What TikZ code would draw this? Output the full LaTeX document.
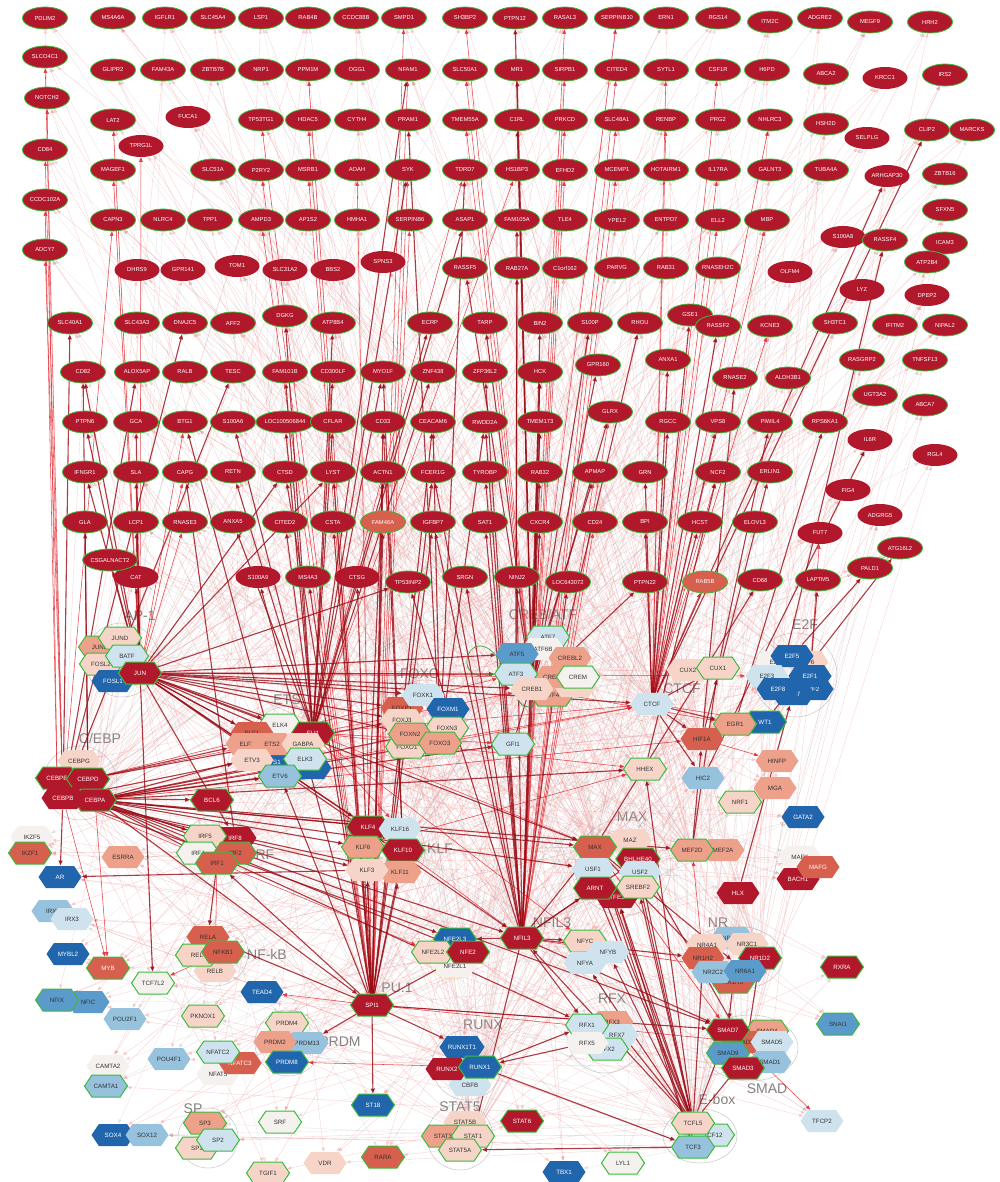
\documentclass[tikz,border=0pt]{standalone}
\usepackage{fontspec}
\setmainfont{Liberation Sans}
\usetikzlibrary{shapes.geometric,shapes.symbols,arrows.meta}
\definecolor{c1}{HTML}{B2182B}
\definecolor{c2}{HTML}{D6604D}
\definecolor{c3}{HTML}{EDA08A}
\definecolor{c4}{HTML}{F6D5C8}
\definecolor{c5}{HTML}{F4F1EF}
\definecolor{c6}{HTML}{CFE3EF}
\definecolor{c7}{HTML}{96C2DD}
\definecolor{c8}{HTML}{5A9BCB}
\definecolor{c9}{HTML}{2166AC}
\definecolor{gG}{HTML}{3CBB3C}
\definecolor{dkr}{HTML}{9A0C16}
\definecolor{mr}{HTML}{E3262E}
\definecolor{fr}{HTML}{F09696}
\definecolor{txd}{HTML}{333333}
\pgfdeclarelayer{bg}
\pgfdeclarelayer{edges}
\pgfsetlayers{bg,edges,main}
\newcommand\mkg[3]{\node[gene] (#1) at (#2,#3) {#1};}
\newcommand\mkgb[3]{\node[gene,draw=none] (#1) at (#2,#3) {#1};}
\newcommand\mkt[4]{\node[hx#1] (#2) at (#3,#4) {#2};}
\newcommand\mktg[4]{\node[hx#1,draw=gG] (#2) at (#3,#4) {#2};}
\begin{document}
\begin{tikzpicture}[x=1pt,y=-1pt,
 gene/.style={ellipse, fill=c1, draw=gG, line width=0.8pt, minimum width=45pt, minimum height=22pt, inner sep=0pt, text=white, font=\fontsize{5.8}{6}\selectfont},
 tf/.style={signal, signal to=west and east, signal pointer angle=112, minimum width=43pt, minimum height=22pt, inner sep=1pt, font=\fontsize{6.2}{7}\selectfont, line width=1pt},
 hx1/.style={tf, fill=c1, text=white},
 hx2/.style={tf, fill=c2, text=txd},
 hx2w/.style={tf, fill=c2, text=white},
 hx3/.style={tf, fill=c3, text=txd},
 hx4/.style={tf, fill=c4, text=txd},
 hx5/.style={tf, fill=c5, text=txd},
 hx6/.style={tf, fill=c6, text=txd},
 hx7/.style={tf, fill=c7, text=txd},
 hx8/.style={tf, fill=c8, text=txd},
 hx9/.style={tf, fill=c9, text=white},
 clu/.style={draw=black!22, line width=0.5pt},
 clab/.style={text=black!50, font=\fontsize{14}{16}\selectfont},
 se/.style={draw=dkr, line width=1.1pt, opacity=.8, -{Triangle[length=5pt,width=4pt]}},
 me/.style={draw=mr, line width=0.55pt, opacity=.85, -{Triangle[length=4.5pt,width=3.5pt]}},
 fe/.style={draw=fr, line width=0.35pt, opacity=.45, -{Triangle[length=4pt,width=3pt]}},
 ge/.style={draw=black!45, line width=0.3pt, opacity=.22, -{Triangle[length=4pt,width=3pt]}},
 loopst/.style={draw=gG!80!black, line width=0.6pt, -{Triangle[length=4pt,width=3pt]}}
]
\useasboundingbox (0,0) rectangle (1000,1182);
\begin{pgfonlayer}{bg}
\fill[white] (0,0) rectangle (1000,1182);
\draw[clu] (122,660) circle (37);
\draw[clu] (80,783) circle (37);
\draw[clu] (290,750) circle (44);
\draw[clu] (425,720) circle (40);
\draw[clu] (545,665) circle (45);
\draw[clu] (795,675) circle (42);
\draw[clu] (623,867) circle (48);
\draw[clu] (217,850) circle (35);
\draw[clu] (385,850) circle (40);
\draw[clu] (215,953) circle (33);
\draw[clu] (735,958) ellipse (48 and 32);
\draw[clu] (605,1035) circle (38);
\draw[clu] (467,1065) circle (35);
\draw[clu] (288,1043) circle (33);
\draw[clu] (750,1048) ellipse (48 and 33);
\draw[clu] (700,1136) ellipse (37 and 27);
\draw[clu] (460,1137) circle (33);
\draw[clu] (208,1138) circle (30);
\draw[draw=yellow!70!orange, opacity=.5, line width=0.5pt] (452,955) circle (24);
\node[clab] at (140,616) {AP-1};
\node[clab] at (100,738) {C/EBP};
\node[clab] at (287,700) {ETS};
\node[clab] at (420,674) {FOXO};
\node[clab] at (543,614) {CREB/ATF};
\node[clab] at (682,689) {CTCF};
\node[clab] at (805,625) {E2F};
\node[clab] at (632,817) {MAX};
\node[clab] at (263,855) {IRF};
\node[clab] at (440,849) {KLF};
\node[clab] at (552,923) {NFIL3};
\node[clab] at (267,954) {NF-kB};
\node[clab] at (718,923) {NR};
\node[clab] at (397,988) {PU.1};
\node[clab] at (612,999) {RFX};
\node[clab] at (483,1025) {RUNX};
\node[clab] at (340,1042) {PRDM};
\node[clab] at (767,1089) {SMAD};
\node[clab] at (717,1099) {E-box};
\node[clab] at (460,1107) {STAT5};
\node[clab] at (193,1109) {SP};
\end{pgfonlayer}
% ---------------- genes ----------------
\mkg{PDLIM2}{45}{18}\mkg{MS4A6A}{113}{18}\mkg{IGFLR1}{165}{18}\mkg{SLC45A4}{213}{18}
\mkg{LSP1}{261}{18}\mkg{RAB4B}{308}{18}\mkg{CCDC88B}{356}{18}\mkg{SMPD1}{404}{18}
\mkg{SH3BP2}{465}{18}\mkg{PTPN12}{515}{18}\mkg{RASAL3}{565}{18}\mkg{SERPINB10}{617}{18}
\mkg{ERN1}{666}{18}\mkg{RGS14}{718}{18}\mkg{ITM2C}{770}{22}\mkg{ADGRE2}{820}{18}
\mkg{MEGF9}{870}{22}\mkg{HRH2}{930}{22}
\mkg{SLCO4C1}{45}{57}
\mkg{GLIPR2}{113}{70}\mkg{FAM43A}{163}{70}\mkg{ZBTB7B}{213}{70}\mkg{NRP1}{261}{70}
\mkg{PPM1M}{308}{70}\mkg{OGG1}{357}{70}\mkg{NFAM1}{408}{70}\mkg{SLC50A1}{465}{70}
\mkg{MR1}{517}{70}\mkg{SIRPB1}{565}{70}\mkg{CITED4}{617}{70}\mkg{SYTL1}{666}{70}
\mkg{CSF1R}{718}{70}\mkg{H6PD}{767}{70}\mkg{ABCA2}{826}{74}\mkgb{KRCC1}{885}{78}\mkg{IRS2}{945}{75}
\mkg{NOTCH2}{47}{98}
\mkg{LAT2}{113}{120}\mkgb{FUCA1}{188}{117}\mkg{TP53TG1}{261}{120}\mkg{HDAC5}{308}{120}
\mkg{CYTH4}{357}{120}\mkg{PRAM1}{408}{120}\mkg{TMEM55A}{465}{120}\mkg{C1RL}{517}{120}
\mkg{PRKCD}{565}{120}\mkg{SLC48A1}{617}{120}\mkg{RENBP}{666}{120}\mkg{PRG2}{718}{120}
\mkg{NHLRC3}{770}{120}\mkg{HSH2D}{826}{124}\mkgb{SELPLG}{867}{138}\mkg{CLIP2}{927}{130}\mkg{MARCKS}{972}{130}
\mkg{CD84}{45}{150}\mkgb{TPRG1L}{141}{146}
\mkg{MAGEF1}{113}{170}\mkg{SLC51A}{213}{170}\mkg{P2RY2}{261}{170}\mkg{MSRB1}{308}{170}
\mkg{AOAH}{357}{170}\mkg{SYK}{408}{170}\mkg{TDRD7}{465}{170}\mkg{HS1BP3}{517}{170}
\mkg{EFHD2}{565}{170}\mkg{MCEMP1}{617}{170}\mkg{HOTAIRM1}{666}{170}\mkg{IL17RA}{718}{170}
\mkg{GALNT3}{770}{170}\mkg{TUBA4A}{826}{170}\mkgb{ARHGAP30}{887}{176}\mkg{ZBTB16}{945}{174}
\mkg{CCDC102A}{45}{200}
\mkg{CAPN3}{113}{220}\mkg{NLRC4}{163}{220}\mkg{TPP1}{210}{220}\mkg{AMPD3}{261}{220}
\mkg{AP1S2}{308}{220}\mkg{HMHA1}{357}{220}\mkg{SERPINB6}{410}{220}\mkg{ASAP1}{465}{220}
\mkg{FAM105A}{517}{220}\mkg{TLE4}{565}{220}\mkg{YPEL2}{617}{220}\mkg{ENTPD7}{666}{220}
\mkg{ELL2}{718}{220}\mkg{MBP}{767}{220}\mkg{SFXN5}{945}{210}
\mkgb{S100A8}{843}{237}\mkg{RASSF4}{885}{240}\mkg{ICAM3}{945}{243}
\mkg{ADCY7}{45}{250}
\mkgb{DHRS9}{137}{270}\mkgb{GPR141}{183}{270}\mkgb{TOM1}{237}{266}\mkgb{SLC31A2}{285}{270}
\mkgb{BBS2}{333}{270}\mkgb{SPNS3}{383}{262}\mkg{RASSF5}{465}{268}\mkg{RAB27A}{517}{268}
\mkg{C1orf162}{565}{268}\mkg{PARVG}{617}{268}\mkg{RAB31}{666}{268}\mkg{RNASEH2C}{718}{268}
\mkgb{OLFM4}{790}{272}\mkg{ATP2B4}{927}{262}
\mkgb{LYZ}{862}{290}\mkgb{DPEP2}{927}{295}
\mkg{SLC40A1}{70}{323}\mkg{SLC43A3}{137}{323}\mkg{DNAJC5}{185}{323}\mkg{AFF2}{233}{323}
\mkg{DGKG}{285}{316}\mkg{ATP8B4}{333}{323}\mkg{ECRP}{430}{323}\mkg{TARP}{485}{323}
\mkg{BIN2}{540}{323}\mkg{S100P}{590}{323}\mkg{RHOU}{640}{323}\mkg{GSE1}{690}{315}
\mkg{RASSF2}{718}{326}\mkg{KCNE3}{770}{326}\mkg{SH3TC1}{835}{323}\mkg{IFITM2}{895}{325}\mkg{NIPAL2}{945}{325}
\mkg{CD82}{83}{372}\mkg{ALOX5AP}{137}{372}\mkg{RALB}{185}{372}\mkg{TESC}{233}{372}
\mkg{FAM101B}{285}{372}\mkg{CD300LF}{333}{372}\mkg{MYO1F}{383}{372}\mkg{ZNF438}{433}{372}
\mkg{ZFP36L2}{485}{372}\mkg{HCK}{540}{372}\mkg{GPR160}{598}{365}\mkg{ANXA1}{668}{360}
\mkg{RNASE2}{735}{378}\mkg{ALDH3B1}{788}{378}\mkg{RASGRP2}{862}{360}\mkg{TNFSF13}{925}{360}
\mkg{UGT3A2}{875}{395}\mkg{ABCA7}{925}{405}
\mkg{PTPN6}{85}{422}\mkg{GCA}{136}{422}\mkg{BTG1}{185}{422}\mkg{S100A6}{233}{422}
\mkg{LOC100506844}{285}{422}\mkg{CFLAR}{333}{422}\mkg{CD33}{383}{422}\mkg{CEACAM6}{433}{422}
\mkg{RWDD2A}{485}{422}\mkg{TMEM173}{540}{422}\mkg{GLRX}{610}{412}\mkg{RGCC}{668}{422}
\mkg{VPS8}{718}{422}\mkg{PIWIL4}{770}{422}\mkg{RPS6KA1}{825}{422}
\mkgb{IL6R}{870}{440}\mkgb{RGL4}{935}{455}
\mkg{IFNGR1}{85}{472}\mkg{SLA}{136}{472}\mkg{CAPG}{185}{472}\mkg{RETN}{233}{472}
\mkg{CTSD}{285}{472}\mkg{LYST}{333}{472}\mkg{ACTN1}{383}{472}\mkg{FCER1G}{433}{472}
\mkg{TYROBP}{485}{472}\mkg{RAB32}{540}{472}\mkg{APMAP}{595}{472}\mkg{GRN}{645}{472}
\mkg{NCF2}{718}{472}\mkg{ERLIN1}{770}{472}
\mkgb{FIG4}{848}{490}
\mkg{GLA}{85}{522}\mkg{LCP1}{136}{522}\mkg{RNASE3}{185}{522}\mkg{ANXA5}{233}{522}
\mkg{CITED2}{285}{522}\mkg{CSTA}{333}{522}\node[gene,fill=c2] (FAM46A) at (383,522) {FAM46A};
\mkg{IGFBP7}{433}{522}\mkg{SAT1}{485}{522}\mkg{CXCR4}{540}{522}\mkg{CD24}{595}{522}
\mkg{BPI}{645}{522}\mkg{HCST}{700}{522}\mkg{ELOVL3}{755}{522}
\mkgb{FUT7}{820}{533}\mkgb{ADGRG5}{880}{515}\mkg{ATG16L2}{900}{548}
\mkgb{CAT}{136}{577}\mkg{CSGALNACT2}{110}{560}
\mkgb{S100A9}{258}{577}\mkg{MS4A3}{308}{577}\mkgb{CTSG}{357}{577}\mkg{TP53INP2}{408}{582}
\mkg{SRGN}{465}{577}\mkg{NINJ2}{517}{577}\mkg{LOC643072}{568}{582}\mkg{PTPN22}{645}{582}
\node[gene,fill=c2] (RAB5B) at (705,582) {RAB5B};
\mkg{CD68}{760}{580}\mkg{LAPTM5}{818}{580}\mkg{PALD1}{870}{568}
% ---------------- transcription factors ----------------
\mktg{3}{JUNB}{100}{647}\mktg{4}{JUND}{120}{638}\mktg{4}{FOSL2}{101}{664}
\mktg{6}{BATF}{127}{656}\mkt{9}{FOSL1}{113}{681}\mktg{1}{JUN}{140}{673}
\mkt{4}{CEBPG}{79}{761}\mktg{1}{CEBPE}{57}{778}\mktg{1}{CEBPD}{88}{779}
\mktg{1}{CEBPA}{95}{800}\mkt{1}{CEBPB}{63}{798}
\mktg{5}{ELK4}{280}{725}\mkt{2}{ELF1}{252}{733}\mktg{1}{FLI1}{313}{733}
\mkt{9}{ETS1}{273}{762}\mkt{9}{ETV5}{310}{768}
\mkt{3}{ELF2}{247}{744}\mkt{3}{ETS2}{272}{744}\mkt{4}{GABPA}{303}{744}
\mkt{4}{ETV3}{252}{760}\mktg{6}{ELK3}{305}{759}\mktg{7}{ETV6}{280}{776}
\mkt{2}{FOXP1}{402}{708}\mkt{6}{FOXK1}{423}{695}\mkt{9}{FOXM1}{448}{709}
\mktg{4}{FOXO1}{407}{747}\mkt{4}{FOXJ3}{402}{720}\mktg{4}{FOXN3}{447}{728}
\mktg{3}{FOXN2}{410}{734}\mktg{3}{FOXO3}{440}{743}
\mktg{6}{GFI1}{513}{744}
\mktg{6}{ATF7}{548}{637}\mkt{5}{ATF6B}{543}{649}\mkt{3}{CREBL2}{570}{658}
\mkt{8}{ATF5}{517}{654}\mktg{3}{ATF4}{552}{695}\mkt{4}{ATF1}{575}{686}
\mkt{3}{CREB3L2}{557}{677}\mktg{5}{CREM}{578}{677}\mktg{6}{ATF3}{516}{674}
\mkt{4}{CREB1}{532}{689}
\mkt{6}{CTCF}{652}{704}
\mkt{4}{CUX2}{688}{670}\mktg{4}{CUX1}{718}{668}
\mkt{5}{E2F4}{777}{662}\mkt{4}{E2F6}{807}{662}\mkt{9}{E2F5}{792}{656}
\mkt{6}{E2F3}{767}{676}\mkt{9}{E2F2}{812}{689}\mkt{9}{E2F7}{793}{694}
\mkt{9}{E2F8}{778}{689}\mkt{9}{E2F1}{810}{676}
\mktg{9}{WT1}{765}{722}\mktg{3}{EGR1}{735}{724}
\mkt{2}{HIF1A}{702}{739}
\mktg{4}{HHEX}{645}{769}
\mkt{7}{HIC2}{703}{778}
\mkt{3}{HINFP}{777}{761}\mkt{3}{MGA}{775}{788}
\mktg{4}{NRF1}{740}{802}\mkt{9}{GATA2}{803}{817}
\mkt{5}{IKZF5}{32}{837}\mktg{2}{IKZF1}{30}{853}
\mkt{3}{ESRRA}{123}{857}\mkt{9}{AR}{60}{877}
\mkt{7}{IRX5}{53}{911}\mkt{6}{IRX3}{72}{919}
\mkt{9}{MYBL2}{68}{954}\mktg{2w}{MYB}{108}{968}
\mktg{5}{TCF7L2}{153}{983}
\mkt{8}{NFIC}{88}{1002}\mktg{8}{NFIX}{57}{1000}
\mktg{4}{PKNOX1}{203}{1016}\mkt{7}{POU2F1}{125}{1019}
\mkt{9}{TEAD4}{262}{992}
\mktg{1}{BCL6}{212}{800}
\mkt{1}{IRF8}{235}{838}\mktg{4}{IRF5}{205}{836}\mktg{5}{IRF4}{198}{853}
\mktg{2}{IRF2}{235}{853}\mktg{2}{IRF1}{217}{863}
\mktg{1}{KLF4}{368}{827}\mkt{6}{KLF16}{400}{829}\mktg{3}{KLF6}{363}{847}
\mktg{1}{KLF10}{403}{850}\mkt{3}{KLF11}{400}{872}\mkt{4}{KLF3}{367}{870}
\mkt{4}{MAZ}{630}{840}\mktg{2}{MAX}{595}{847}\mktg{1}{BHLHE40}{638}{859}
\mkt{6}{USF2}{640}{872}\mkt{6}{USF1}{593}{869}\mkt{1}{TFE3}{617}{897}
\mktg{1}{ARNT}{595}{888}\mktg{4}{SREBF2}{638}{887}
\mkt{3}{MEF2A}{723}{850}\mktg{3}{MEF2D}{692}{850}
\mkt{5}{MAFK}{800}{857}\mkt{1}{BACH1}{798}{879}\mkt{2w}{MAFG}{818}{867}
\mkt{1}{HLX}{738}{893}
\mkt{7}{NR2F6}{732}{938}\mkt{4}{NR4A1}{707}{945}\mkt{4}{NR3C1}{747}{944}
\mktg{1}{NR1D2}{760}{958}\mkt{2}{NR1H2}{703}{958}\mktg{2}{NR1H3}{733}{982}
\mkt{7}{NR2C2}{713}{972}\mkt{8}{NR6A1}{745}{971}
\mktg{1}{RXRA}{842}{967}\mktg{8}{SNAI1}{838}{1024}\mkt{6}{TFCP2}{822}{1121}
\mktg{1}{NFIL3}{522}{938}
\mkt{5}{NFE2L1}{455}{966}\mktg{9}{NFE2L3}{455}{939}\mktg{4}{NFE2L2}{433}{952}\mktg{1}{NFE2}{468}{952}
\mktg{4}{NFYC}{585}{941}\mkt{6}{NFYB}{608}{952}\mkt{6}{NFYA}{585}{963}
\mktg{1}{SPI1}{372}{1005}
\mkt{3}{RFX3}{612}{1022}\mkt{6}{RFX7}{617}{1035}\mktg{6}{RFX2}{607}{1049}
\mktg{6}{RFX1}{587}{1025}\mkt{5}{RFX5}{587}{1043}
\mkt{6}{CBFB}{470}{1085}\mkt{9}{RUNX1T1}{462}{1047}\mkt{1}{RUNX2}{447}{1069}\mktg{9}{RUNX1}{480}{1067}
\mkt{4}{RELB}{215}{971}\mkt{2}{RELA}{208}{937}\mktg{4}{REL}{197}{955}\mktg{2}{NFKB1}{223}{952}
\mktg{4}{PRDM4}{287}{1023}\mkt{7}{PRDM13}{307}{1043}\mkt{3}{PRDM2}{275}{1042}\mktg{9}{PRDM8}{287}{1062}
\mkt{5}{NFAT5}{218}{1074}\mkt{2w}{NFATC3}{240}{1063}\mktg{6}{NFATC2}{218}{1052}
\mkt{7}{POU4F1}{169}{1059}\mkt{5}{CAMTA2}{108}{1066}\mktg{7}{CAMTA1}{106}{1086}
\mkt{9}{SOX4}{113}{1135}\mkt{7}{SOX12}{147}{1135}
\mktg{3}{SP3}{205}{1123}\mktg{4}{SP1}{197}{1148}\mktg{6}{SP2}{218}{1140}
\mktg{5}{SRF}{280}{1122}\mktg{4}{TGIF1}{268}{1173}\mkt{4}{VDR}{325}{1163}
\mktg{9}{ST18}{373}{1105}\mktg{2}{RARA}{383}{1157}
\mkt{4}{STAT5B}{465}{1122}\mktg{3}{STAT3}{443}{1136}\mktg{4}{STAT1}{473}{1136}\mktg{4}{STAT5A}{460}{1150}
\mktg{1}{STAT6}{522}{1121}\mkt{9}{TBX1}{564}{1172}\mktg{5}{LYL1}{623}{1163}
\mktg{3}{SMAD4}{767}{1031}\mkt{2}{SMAD2}{743}{1042}\mktg{1}{SMAD7}{728}{1030}
\mkt{6}{SMAD5}{772}{1042}\mkt{7}{SMAD1}{770}{1062}\mktg{8}{SMAD9}{728}{1053}\mktg{1}{SMAD3}{743}{1068}
\mktg{6}{TCF12}{713}{1135}\mktg{4}{TCFL5}{693}{1123}\mktg{7}{TCF3}{693}{1147}
% ---------------- edges ----------------
\def\genelist{PDLIM2,MS4A6A,IGFLR1,SLC45A4,LSP1,RAB4B,CCDC88B,SMPD1,SH3BP2,PTPN12,RASAL3,SERPINB10,ERN1,RGS14,ITM2C,ADGRE2,MEGF9,HRH2,SLCO4C1,GLIPR2,FAM43A,ZBTB7B,NRP1,PPM1M,OGG1,NFAM1,SLC50A1,MR1,SIRPB1,CITED4,SYTL1,CSF1R,H6PD,ABCA2,KRCC1,IRS2,NOTCH2,LAT2,FUCA1,TP53TG1,HDAC5,CYTH4,PRAM1,TMEM55A,C1RL,PRKCD,SLC48A1,RENBP,PRG2,NHLRC3,HSH2D,SELPLG,CLIP2,MARCKS,CD84,TPRG1L,MAGEF1,SLC51A,P2RY2,MSRB1,AOAH,SYK,TDRD7,HS1BP3,EFHD2,MCEMP1,HOTAIRM1,IL17RA,GALNT3,TUBA4A,ARHGAP30,ZBTB16,CCDC102A,CAPN3,NLRC4,TPP1,AMPD3,AP1S2,HMHA1,SERPINB6,ASAP1,FAM105A,TLE4,YPEL2,ENTPD7,ELL2,MBP,SFXN5,S100A8,RASSF4,ICAM3,ADCY7,DHRS9,GPR141,TOM1,SLC31A2,BBS2,SPNS3,RASSF5,RAB27A,C1orf162,PARVG,RAB31,RNASEH2C,OLFM4,ATP2B4,LYZ,DPEP2,SLC40A1,SLC43A3,DNAJC5,AFF2,DGKG,ATP8B4,ECRP,TARP,BIN2,S100P,RHOU,GSE1,RASSF2,KCNE3,SH3TC1,IFITM2,NIPAL2,CD82,ALOX5AP,RALB,TESC,FAM101B,CD300LF,MYO1F,ZNF438,ZFP36L2,HCK,GPR160,ANXA1,RNASE2,ALDH3B1,RASGRP2,TNFSF13,UGT3A2,ABCA7,PTPN6,GCA,BTG1,S100A6,LOC100506844,CFLAR,CD33,CEACAM6,RWDD2A,TMEM173,GLRX,RGCC,VPS8,PIWIL4,RPS6KA1,IL6R,RGL4,IFNGR1,SLA,CAPG,RETN,CTSD,LYST,ACTN1,FCER1G,TYROBP,RAB32,APMAP,GRN,NCF2,ERLIN1,FIG4,GLA,LCP1,RNASE3,ANXA5,CITED2,CSTA,FAM46A,IGFBP7,SAT1,CXCR4,CD24,BPI,HCST,ELOVL3,FUT7,ADGRG5,ATG16L2,CAT,CSGALNACT2,S100A9,MS4A3,CTSG,TP53INP2,SRGN,NINJ2,LOC643072,PTPN22,RAB5B,CD68,LAPTM5,PALD1}
\def\tflist{JUND,BATF,FOSL2,CEBPG,ELK4,GABPA,ETV3,ELK3,FOXK1,FOXM1,FOXJ3,FOXN3,GFI1,ATF7,ATF5,CREBL2,CREM,CTCF,CUX2,CUX1,E2F5,E2F3,E2F8,EGR1,WT1,HIF1A,HHEX,HIC2,HINFP,MGA,NRF1,GATA2,IKZF5,IKZF1,ESRRA,AR,IRX5,IRX3,MYBL2,MYB,TCF7L2,NFIC,NFIX,PKNOX1,POU2F1,TEAD4,BCL6,IRF5,IRF2,KLF16,KLF6,KLF3,MAZ,USF1,SREBF2,MEF2A,MAFK,BACH1,MAFG,HLX,NR3C1,NR6A1,RXRA,SNAI1,TFCP2,NFE2L3,NFYC,NFYA,RFX1,RFX5,RUNX1T1,CBFB,RELA,RELB,NFKB1,PRDM4,PRDM2,PRDM8,NFATC2,NFAT5,POU4F1,CAMTA2,CAMTA1,SOX4,SOX12,SP3,SP2,SRF,TGIF1,VDR,ST18,RARA,STAT5B,STAT6,TBX1,LYL1,SMAD7,SMAD5,SMAD3,TCF12}
\def\srcs{{"SPI1","NFIL3","JUN","CEBPA","FLI1","KLF10","TCFL5","CTCF","MAX","CREB1","FOXO3","IRF1","RUNX1","E2F1","HIF1A","NR1D2","SMAD3","STAT1","CEBPB","ETV6","TCF3","MEF2D","ATF3","NFE2"}}
\begin{pgfonlayer}{edges}
\foreach \g [count=\i] in \genelist {
  \pgfmathtruncatemacro\ia{mod(\i*7,24)}
  \pgfmathtruncatemacro\ib{mod(\i*13+5,24)}
  \pgfmathtruncatemacro\ic{mod(\i*5+11,24)}
  \pgfmathsetmacro\sa{\srcs[\ia]}
  \pgfmathsetmacro\sb{\srcs[\ib]}
  \pgfmathsetmacro\sc{\srcs[\ic]}
  \draw[fe] (\sa) -- (\g);
  \draw[fe] (\sb) -- (\g);
  \draw[ge] (\sc) -- (\g);
}
\foreach \g [count=\i] in \tflist {
  \pgfmathtruncatemacro\ia{mod(\i*5+3,24)}
  \pgfmathtruncatemacro\ib{mod(\i*11+7,24)}
  \pgfmathtruncatemacro\ic{mod(\i*17+2,24)}
  \pgfmathtruncatemacro\id{mod(\i*19+13,24)}
  \pgfmathsetmacro\sa{\srcs[\ia]}
  \pgfmathsetmacro\sb{\srcs[\ib]}
  \pgfmathsetmacro\sc{\srcs[\ic]}
  \pgfmathsetmacro\sd{\srcs[\id]}
  \draw[fe] (\sa) -- (\g);
  \draw[fe] (\sc) -- (\g);
  \draw[fe] (\sd) -- (\g);
  \draw[ge] (\sb) -- (\g);
}
% medium red edges
\foreach \t in {TP53TG1,SMPD1,NFAM1,HDAC5,P2RY2,SYK,AOAH,MSRB1,SERPINB6,TEAD4,AMPD3,PPM1M}
  \draw[me] (SPI1) -- (\t);
\foreach \t in {ADCY7,CD84,SLCO4C1,MYB,CAPN3}
  \draw[me] (CEBPB) -- (\t);
\draw[me] (CEBPE) -- (NOTCH2);\draw[me] (CEBPE) -- (CCDC102A);\draw[me] (CEBPA) -- (MYB);
\foreach \t in {TPRG1L,LAT2,MAGEF1,BTG1,RNASE3,CAPG}
  \draw[me] (JUN) -- (\t);
\foreach \t in {SIRPB1,SLC48A1,CITED4,PRKCD,EFHD2,MCEMP1,APMAP,CD24,GLRX}
  \draw[me] (NFIL3) -- (\t);
\foreach \t in {SYTL1,RENBP,CSF1R,NHLRC3,IL17RA,ELL2,MBP,KCNE3,NCF2,RAB5B}
  \draw[me] (CTCF) -- (\t);
\foreach \t in {RASAL3,SERPINB10,SH3BP2,SLC50A1,TMEM55A}
  \draw[me] (CREB1) -- (\t);
\foreach \t in {GFI1,CTCF,HHEX,MAX,KLF16,HS1BP3,TDRD7}
  \draw[me] (FLI1) -- (\t);
\draw[me] (NFKB1) -- (TCF7L2);\draw[me] (RUNX1) -- (PRDM8);\draw[me] (NR1H2) -- (MEF2D);
\draw[me] (KLF10) -- (NFIL3);\draw[me] (CEBPD) -- (CREB1);\draw[me] (CEBPD) -- (ATF3);
\draw[me] (FOXO3) -- (CTCF);\draw[me] (CREB1) -- (EGR1);\draw[me] (SPI1) -- (SMAD2);
\draw[me] (NFIL3) -- (NR6A1);\draw[me] (MAX) -- (SMAD7);\draw[me] (CTCF) -- (WT1);
\draw[me] (JUN) -- (CREB3L2);\draw[me] (CEBPA) -- (CTCF);\draw[me] (IRF1) -- (RELB);
\draw[me] (SMAD7) -- (TFCP2);\draw[me] (HIF1A) -- (HINFP);\draw[me] (E2F1) -- (FUT7);
\draw[me] (CEBPA) -- (HIF1A);\draw[me] (JUN) -- (E2F3);\draw[me] (KLF6) -- (HHEX);
\draw[me] (SPI1) -- (RFX3);\draw[me] (CEBPB) -- (NFE2L2);\draw[me] (FLI1) -- (NFYC);
% strong dark red edges
\foreach \t in {ELK4,ELF1,FLI1,ETS2,GABPA,FOXK1,FOXP1,FOXJ3,FOXN2,ATF5,ATF3,CREB1,CTCF,KLF4,KLF10,MAX,NFIL3,IRF8,TCF7L2,CD82,PTPN6,SLA,GCA,LCP1,IFNGR1,CAT,CSGALNACT2,CTSD,LYST,TP53INP2}
  \draw[se] (JUN) -- (\t);
\foreach \t in {ELK3,ETV6,GABPA,FOXO3,FOXN3,GFI1,HHEX,KLF16,KLF6,MAX,USF1,NFIL3,NFE2,SPI1,IRF5,IRF1,MEF2D,SMAD7,RFX1}
  \draw[se] (CEBPA) -- (\t);
\foreach \t in {ETV3,BCL6,KLF3,KLF11,NFE2L3,AR,SLC40A1,ALOX5AP,DNAJC5,TESC}
  \draw[se] (CEBPB) -- (\t);
\foreach \t in {ELF2,FOXJ3,CD82,GLA}
  \draw[se] (CEBPD) -- (\t);
\foreach \t in {ZNF438,ECRP,ATP8B4,DGKG,FAM101B,CD300LF,MYO1F,ASAP1,SYK,NFAM1,S100A6,LOC100506844,CFLAR,CITED2,ANXA5,RETN}
  \draw[se] (FLI1) -- (\t);
\foreach \t in {KLF3,KLF11,KLF6,KLF10,ETV6,IRF1,RELA,PRDM13,RUNX1T1,ST18,SMAD7,NFE2,LYST,CTSD,CSTA,ACTN1,FCER1G,CD33,CEACAM6,IGFBP7,FAM46A,MS4A3,CTSG,S100A9}
  \draw[se] (SPI1) -- (\t);
\foreach \t in {TYROBP,RAB32,SAT1,CXCR4,FCER1G,IGFBP7,SRGN,NINJ2,TP53INP2,LOC643072,RWDD2A,TMEM173,ZFP36L2,HCK,NFE2L3,NFYC,MAX,BHLHE40,ARNT,NR1H2,SMAD7,RFX1,STAT1}
  \draw[se] (NFIL3) -- (\t);
\foreach \t in {MAX,MAZ,BHLHE40,USF1,ARNT,TFE3,SREBF2,NFIL3,NFYA,NFYB,RFX3,SMAD4,SMAD7,NR1H2,HHEX}
  \draw[se] (TCFL5) -- (\t);
\foreach \t in {STAT5A,TFE3,MAX}
  \draw[se] (TCF3) -- (\t);
\draw[se] (RUNX1) -- (TCF3);\draw[se] (RUNX1) -- (RFX1);\draw[se] (RFX5) -- (RUNX1);
\foreach \t in {GSE1,ANXA1,RASSF2,CLIP2,ARHGAP30,CUX1,EGR1,HIF1A,HIC2,VPS8,RGCC,GRN,BPI,HCST}
  \draw[se] (CTCF) -- (\t);
\draw[se] (E2F5) -- (PALD1);\draw[se] (E2F1) -- (LAPTM5);\draw[se] (WT1) -- (ATG16L2);
\draw[se] (E2F8) -- (RASSF4);\draw[se] (HIF1A) -- (ERLIN1);\draw[se] (HIF1A) -- (RNASE2);
\draw[se] (HLX) -- (E2F7);\draw[se] (MAX) -- (NR1H2);\draw[se] (MAX) -- (NR6A1);
\draw[se] (BHLHE40) -- (SMAD2);\draw[se] (NR1H3) -- (SMAD7);\draw[se] (NR1D2) -- (SMAD3);
\foreach \t in {MR1,C1RL,PTPN12,RASSF5,TARP,BIN2,S100P,HCK,GPR160,GLRX,TMEM173,PTPN22}
  \draw[se] (CREB1) -- (\t);
\draw[se] (ATF3) -- (RAB27A);\draw[se] (ATF3) -- (FAM105A);\draw[se] (ATF4) -- (RHOU);
\foreach \t in {PRAM1,TDRD7,CEACAM6,RWDD2A}
  \draw[se] (FOXO3) -- (\t);
\draw[se] (KLF10) -- (CD33);\draw[se] (KLF10) -- (MYO1F);\draw[se] (KLF4) -- (ACTN1);
\draw[se] (KLF3) -- (AR);\draw[se] (IRF1) -- (RELA);\draw[se] (MEF2D) -- (HIF1A);
\draw[se] (MEF2D) -- (CUX1);\draw[se] (IRF8) -- (CAPG);\draw[se] (ETV6) -- (BTG1);
\draw[se] (MAX) -- (CD68);\draw[se] (GFI1) -- (APMAP);\draw[se] (HHEX) -- (NCF2);
\draw[se] (CUX1) -- (PIWIL4);\draw[se] (EGR1) -- (RPS6KA1);\draw[se] (HIC2) -- (IL6R);
% self loops
\draw[loopst] (ATF3.north west) .. controls (470,615) and (448,685) .. (ATF3.west);
\draw[loopst] (ATF3.south east) .. controls (545,715) and (515,712) .. (ATF3.south);
\end{pgfonlayer}
\end{tikzpicture}
\end{document}
